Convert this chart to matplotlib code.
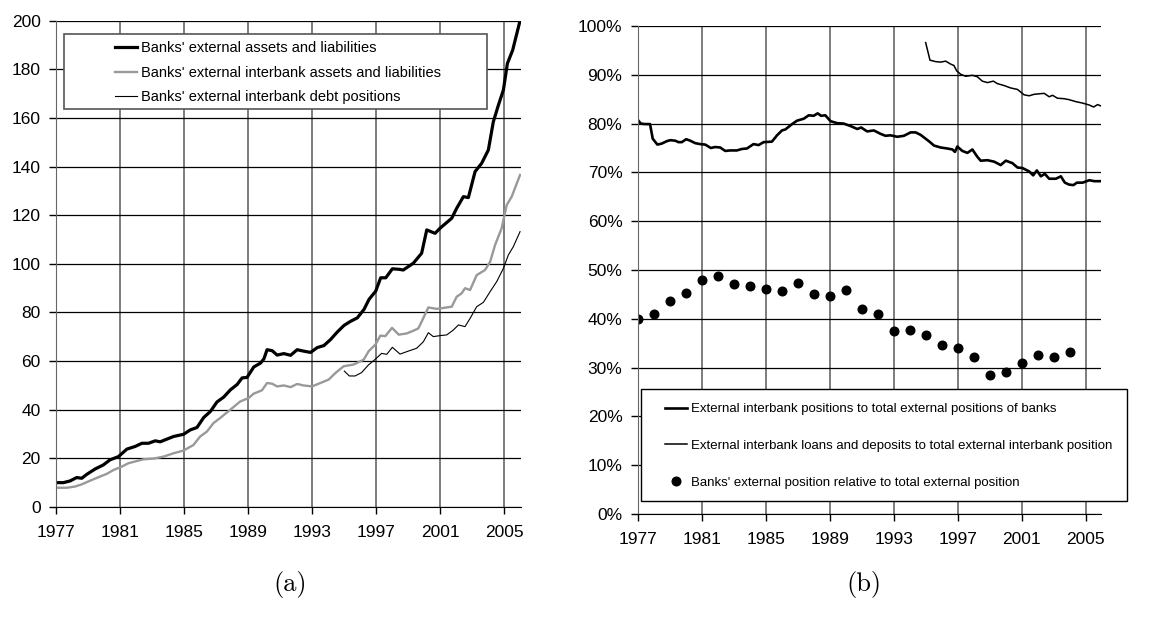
import matplotlib.pyplot as plt
from matplotlib.patches import Rectangle
from matplotlib.ticker import FuncFormatter

plt.rcParams['font.family'] = ['Liberation Sans', 'DejaVu Sans']

# ---- panel (a): stocks (decimal years) ----
assets_years = [1977.0, 1977.46, 1977.88, 1978.29, 1978.61, 1978.92, 1979.44, 1979.96, 1980.38, 1980.9,
                1981.43, 1981.95, 1982.37, 1982.78, 1983.2, 1983.51, 1983.93, 1984.35, 1984.97, 1985.39,
                1985.81, 1986.23, 1986.65, 1987.06, 1987.48, 1987.9, 1988.32, 1988.63, 1988.94, 1989.36,
                1989.78, 1989.99, 1990.19, 1990.51, 1990.82, 1991.24, 1991.66, 1992.07, 1992.49, 1992.91,
                1993.33, 1993.74, 1994.16, 1994.58, 1995.0, 1995.41, 1995.83, 1996.25, 1996.56, 1996.98,
                1997.29, 1997.61, 1998.02, 1998.44, 1998.7, 1999.33, 1999.85, 2000.17, 2000.69, 2001.0,
                2001.73, 2002.04, 2002.46, 2002.77, 2003.19, 2003.6, 2004.02, 2004.33, 2004.65, 2004.96,
                2005.21, 2005.54, 2006.0]
assets_vals = [9.9, 9.9, 10.6, 12.0, 11.7, 13.3, 15.5, 17.2, 19.3, 20.6,
               23.7, 24.8, 26.1, 26.1, 27.1, 26.7, 27.8, 28.9, 29.8, 31.6,
               32.6, 36.7, 39.2, 43.1, 45.1, 48.1, 50.3, 53.0, 53.2, 57.5,
               59.1, 60.8, 64.6, 64.2, 62.4, 63.0, 62.3, 64.6, 64.0, 63.5,
               65.5, 66.3, 68.8, 71.9, 74.6, 76.3, 77.7, 81.2, 85.3, 88.7,
               94.2, 94.2, 97.9, 97.7, 97.4, 100.2, 104.3, 113.9, 112.5, 114.6,
               118.7, 122.8, 127.6, 127.2, 137.9, 141.3, 146.8, 158.4, 165.3, 171.5,
               182.4, 187.9, 200.0]

interbank_years = [1977.0, 1977.67, 1978.19, 1978.61, 1979.13, 1979.75, 1980.17, 1980.59, 1981.11, 1981.53,
                   1982.05, 1982.46, 1983.09, 1983.72, 1984.35, 1984.97, 1985.59, 1986.01, 1986.43, 1986.84,
                   1987.26, 1987.89, 1988.51, 1989.03, 1989.35, 1989.87, 1990.19, 1990.51, 1990.82, 1991.24,
                   1991.66, 1992.07, 1992.47, 1993.0, 1993.52, 1994.04, 1994.46, 1994.98, 1995.6, 1996.23,
                   1996.54, 1996.96, 1997.27, 1997.58, 1998.0, 1998.42, 1998.92, 1999.33, 1999.65, 2000.27,
                   2000.8, 2001.73, 2002.04, 2002.35, 2002.56, 2002.88, 2003.29, 2003.81, 2004.13, 2004.44,
                   2004.85, 2005.17, 2005.48, 2006.0]
interbank_vals = [7.8, 7.8, 8.3, 9.2, 10.7, 12.4, 13.5, 15.1, 16.5, 17.9,
                  18.8, 19.5, 19.8, 20.6, 22.0, 23.1, 25.4, 28.9, 30.9, 34.4,
                  36.5, 39.9, 43.3, 44.7, 46.5, 47.9, 50.9, 50.6, 49.5, 49.9,
                  49.2, 50.5, 49.9, 49.5, 50.9, 52.3, 55.0, 57.8, 58.5, 60.5,
                  64.0, 66.7, 70.4, 70.2, 73.6, 70.8, 71.3, 72.4, 73.4, 82.0,
                  81.4, 82.3, 86.4, 87.8, 89.9, 89.2, 95.3, 97.4, 100.8, 107.7,
                  114.6, 124.2, 127.6, 136.5]

debt_years = [1995.02, 1995.33, 1995.69, 1996.1, 1996.52, 1996.94, 1997.35, 1997.67, 1998.02, 1998.5,
              1998.92, 1999.54, 1999.96, 2000.27, 2000.58, 2001.0, 2001.42, 2001.83, 2002.15, 2002.56,
              2002.88, 2003.29, 2003.71, 2004.13, 2004.54, 2004.96, 2005.27, 2005.58, 2006.0]
debt_vals = [55.8, 53.8, 53.8, 55.2, 58.3, 60.6, 63.1, 62.7, 65.6, 62.8,
             63.8, 65.2, 67.9, 71.6, 70.0, 70.4, 70.7, 72.7, 74.8, 74.1,
             77.5, 82.3, 84.1, 88.5, 92.6, 98.1, 103.6, 107.0, 113.2]

# ---- panel (b): ratios in percent ----
share_years = [1977.0, 1977.19, 1977.46, 1977.77, 1977.94, 1978.23, 1978.5, 1978.82, 1979.03, 1979.34,
               1979.55, 1979.76, 1980.03, 1980.28, 1980.59, 1980.9, 1981.22, 1981.57, 1981.84, 1982.16,
               1982.47, 1982.78, 1983.2, 1983.51, 1983.83, 1984.24, 1984.56, 1984.87, 1985.39, 1985.71,
               1986.02, 1986.23, 1986.65, 1986.96, 1987.38, 1987.69, 1988.0, 1988.25, 1988.46, 1988.73,
               1989.05, 1989.46, 1989.88, 1990.3, 1990.72, 1990.97, 1991.34, 1991.76, 1992.18, 1992.49,
               1992.8, 1993.22, 1993.64, 1994.06, 1994.37, 1994.68, 1995.2, 1995.52, 1995.94, 1996.35,
               1996.67, 1996.83, 1996.98, 1997.29, 1997.61, 1997.92, 1998.23, 1998.44, 1998.86, 1999.28,
               1999.69, 2000.01, 2000.42, 2000.74, 2001.05, 2001.47, 2001.72, 2001.95, 2002.2, 2002.45,
               2002.72, 2003.14, 2003.45, 2003.7, 2003.97, 2004.24, 2004.45, 2004.81, 2005.23, 2005.54,
               2005.96]
share_vals = [80.8, 80.0, 79.9, 79.9, 76.9, 75.7, 75.9, 76.4, 76.6, 76.5,
              76.2, 76.2, 76.8, 76.5, 76.0, 75.8, 75.7, 75.0, 75.2, 75.1,
              74.4, 74.5, 74.5, 74.8, 74.9, 75.8, 75.6, 76.2, 76.3, 77.6,
              78.6, 78.8, 79.9, 80.6, 81.0, 81.7, 81.6, 82.1, 81.6, 81.7,
              80.5, 80.1, 80.0, 79.5, 78.9, 79.2, 78.4, 78.6, 77.9, 77.5,
              77.6, 77.3, 77.5, 78.2, 78.2, 77.7, 76.4, 75.5, 75.1, 74.9,
              74.7, 74.2, 75.3, 74.4, 74.0, 74.7, 73.2, 72.4, 72.5, 72.2,
              71.5, 72.4, 71.9, 71.0, 70.9, 70.2, 69.4, 70.4, 69.2, 69.7,
              68.7, 68.7, 69.2, 67.9, 67.5, 67.4, 67.9, 67.9, 68.4, 68.2,
              68.2]

loans_years = [1995.0, 1995.27, 1995.62, 1995.94, 1996.25, 1996.56, 1996.77, 1996.94, 1997.19, 1997.5,
               1997.92, 1998.23, 1998.54, 1998.86, 1999.23, 1999.48, 1999.9, 2000.32, 2000.74, 2001.15,
               2001.47, 2001.78, 2002.09, 2002.41, 2002.72, 2002.93, 2003.24, 2003.66, 2003.97, 2004.39,
               2004.81, 2005.23, 2005.5, 2005.75, 2005.96]
loans_vals = [96.6, 93.0, 92.7, 92.6, 92.8, 92.2, 91.9, 90.8, 90.1, 89.7,
              89.9, 89.6, 88.7, 88.4, 88.7, 88.2, 87.8, 87.3, 87.0, 85.9,
              85.7, 86.0, 86.1, 86.2, 85.5, 85.8, 85.2, 85.1, 84.9, 84.5,
              84.2, 83.8, 83.4, 83.9, 83.6]

dot_years = list(range(1977, 2005))
dot_vals = [39.9, 41.0, 43.6, 45.2, 48.0, 48.8, 47.1, 46.7, 46.1, 45.6,
            47.3, 45.0, 44.6, 46.0, 42.1, 40.9, 37.4, 37.8, 36.7, 34.6,
            34.0, 32.1, 28.5, 29.2, 31.0, 32.5, 32.1, 33.1]

year_ticks = list(range(1977, 2006, 4))


def style(ax, xmax):
    ax.set_xlim(1977, xmax)
    ax.set_xticks(year_ticks)
    ax.grid(axis='x', color='#666666', lw=1.2)
    ax.grid(axis='y', color='black', lw=0.9)
    ax.set_axisbelow(True)
    ax.spines['top'].set_visible(False)
    ax.spines['right'].set_visible(False)
    ax.spines['left'].set_color('#666666')
    ax.spines['bottom'].set_color('black')
    ax.tick_params(direction='out', length=5, width=1, labelsize=12.5, colors='black')
    ax.tick_params(axis='x', pad=8)
    ax.tick_params(axis='y', pad=6)


fig = plt.figure(figsize=(11.68, 6.23), dpi=100)
W, H = 1168, 623

# ---- (a) ----
ax1 = fig.add_axes([56 / W, 1 - 506.7 / H, 465 / W, 486 / H])
ax1.plot(assets_years, assets_vals, color='black', lw=2.3,
         label="Banks' external assets and liabilities")
ax1.plot(interbank_years, interbank_vals, color='#999999', lw=1.7,
         label="Banks' external interbank assets and liabilities")
ax1.plot(debt_years, debt_vals, color='black', lw=0.8,
         label="Banks' external interbank debt positions")
ax1.set_ylim(0, 200)
ax1.set_yticks(range(0, 201, 20))
style(ax1, 2006.06)

ax1.add_patch(Rectangle((64 / W, 1 - 109 / H), (486.7 - 64) / W, (109 - 34.3) / H,
                        transform=fig.transFigure, facecolor='white',
                        edgecolor='#555555', lw=1.2, zorder=4))
leg1 = ax1.legend(loc='upper left', bbox_to_anchor=(115 / W, 1 - 41.5 / H),
                  bbox_transform=fig.transFigure, frameon=False, fontsize=10.5,
                  handlelength=1.5, handletextpad=0.3, labelspacing=0.72,
                  borderpad=0, borderaxespad=0)
leg1.set_zorder(5)

# ---- (b) ----
ax2 = fig.add_axes([637.7 / W, 1 - 514 / H, 463.3 / W, 488 / H])
ax2.plot(share_years, share_vals, color='black', lw=1.9,
         label='External interbank positions to total external positions of banks')
ax2.plot(loans_years, loans_vals, color='black', lw=1.1,
         label='External interbank loans and deposits to total external interbank position')
ax2.plot(dot_years, dot_vals, 'o', color='black', ms=6.2, ls='none',
         label="Banks' external position relative to total external position")
ax2.set_ylim(0, 100)
ax2.set_yticks(range(0, 101, 10))
ax2.yaxis.set_major_formatter(FuncFormatter(lambda v, p: '%d%%' % v))
style(ax2, 2005.96)

ax2.add_patch(Rectangle((640.7 / W, 1 - 501 / H), (1127 - 640.7) / W, (501 - 389.3) / H,
                        transform=fig.transFigure, facecolor='white',
                        edgecolor='black', lw=1.0, zorder=4, clip_on=False))
leg2 = ax2.legend(loc='upper left', bbox_to_anchor=(665 / W, 1 - 403 / H),
                  bbox_transform=fig.transFigure, frameon=False, fontsize=9.5,
                  handlelength=1.7, handletextpad=0.25, labelspacing=1.85,
                  borderpad=0, borderaxespad=0, numpoints=1)
leg2.set_zorder(5)

# panel captions
fig.text(290 / W, 1 - 585 / H, '(a)', family='cmr10', fontsize=19, ha='center', va='center')
fig.text(864 / W, 1 - 585 / H, '(b)', family='cmr10', fontsize=19, ha='center', va='center')

fig.savefig('out.png', dpi=100)
